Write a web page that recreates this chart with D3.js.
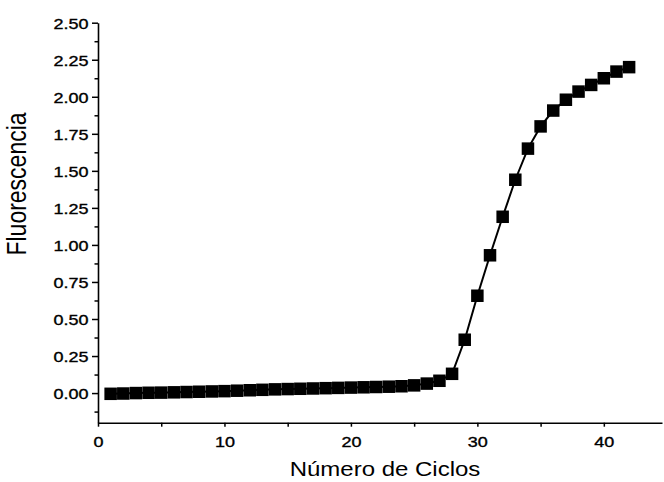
<!DOCTYPE html>
<html><head><meta charset="utf-8">
<script src="https://cdn.jsdelivr.net/npm/d3@7"></script>
<style>
html,body{margin:0;padding:0;background:#fff;}
svg{display:block;font-family:"Liberation Sans",Arial,sans-serif;}
</style></head>
<body>
<svg id="chart" width="664" height="482"></svg>
<script>
const cycles = [1,2,3,4,5,6,7,8,9,10,11,12,13,14,15,16,17,18,19,20,21,22,23,24,25,26,27,28,29,30,31,32,33,34,35,36,37,38,39,40,41,42];
const fluorescence = [-0.005,-0.003,0.0,0.002,0.003,0.005,0.007,0.009,0.011,0.013,0.016,0.019,0.022,0.025,0.027,0.029,0.031,0.033,0.035,0.037,0.039,0.041,0.043,0.046,0.052,0.064,0.083,0.13,0.36,0.657,0.93,1.19,1.44,1.65,1.80,1.907,1.98,2.035,2.08,2.125,2.17,2.20];
const xMajorTicks = [0,10,20,30,40];
const xMinorTicks = [5,15,25,35];
const yMajorTicks = [0,0.25,0.5,0.75,1.0,1.25,1.5,1.75,2.0,2.25,2.5];
const yMinorTicks = [-0.125,0.125,0.375,0.625,0.875,1.125,1.375,1.625,1.875,2.125,2.375];
const xTitle = "Número de Ciclos";
const yTitle = "Fluorescencia";

const svg = d3.select("#chart");
const SX = 1.2;
const x = d3.scaleLinear().domain([0,44.6]).range([98,662]);
const y = d3.scaleLinear().domain([-0.2,2.5]).range([422.7,22.7]);

// minor ticks
svg.append("g").attr("transform",`translate(0,${y(-0.2)})`)
  .call(d3.axisBottom(x).tickValues(xMinorTicks).tickSize(4).tickFormat(""))
  .call(g=>g.select(".domain").remove())
  .call(g=>g.selectAll("line").attr("stroke","#000").attr("stroke-width",1.5));
svg.append("g").attr("transform",`translate(${x(0)},0)`)
  .call(d3.axisLeft(y).tickValues(yMinorTicks).tickSize(3.5).tickFormat(""))
  .call(g=>g.select(".domain").remove())
  .call(g=>g.selectAll("line").attr("stroke","#000").attr("stroke-width",1.5));

// major axes
const gx = svg.append("g").attr("transform",`translate(0,${y(-0.2)})`)
  .call(d3.axisBottom(x).tickValues(xMajorTicks).tickSize(4).tickSizeOuter(0).tickFormat(d3.format("d")));
gx.select(".domain").attr("stroke","#000").attr("stroke-width",1.6);
gx.selectAll("line").attr("stroke","#000").attr("stroke-width",1.5);
gx.selectAll("text").attr("y",0).attr("dy",0)
  .attr("transform",`translate(0,24.5) scale(${SX},1)`)
  .attr("font-size",15).attr("fill","#000").attr("stroke","#000").attr("stroke-width",0.35)
  .attr("font-family","Liberation Sans, Arial, sans-serif");

const gy = svg.append("g").attr("transform",`translate(${x(0)},0)`)
  .call(d3.axisLeft(y).tickValues(yMajorTicks).tickSize(6).tickSizeOuter(0).tickFormat(d3.format(".2f")));
gy.select(".domain").attr("stroke","#000").attr("stroke-width",1.6);
gy.selectAll("line").attr("stroke","#000").attr("stroke-width",1.5);
gy.selectAll("text").attr("x",0).attr("dy","0.36em")
  .attr("transform",`translate(-9.5,0) scale(${SX},1)`)
  .attr("font-size",15).attr("fill","#000").attr("stroke","#000").attr("stroke-width",0.35)
  .attr("font-family","Liberation Sans, Arial, sans-serif");

// line
svg.append("path")
  .datum(cycles.map((c,i)=>[c,fluorescence[i]]))
  .attr("fill","none").attr("stroke","#000").attr("stroke-width",2)
  .attr("d", d3.line().x(d=>x(d[0])).y(d=>y(d[1])));

// squares
const S = 12.5;
svg.append("g").selectAll("rect")
  .data(cycles.map((c,i)=>[c,fluorescence[i]]))
  .join("rect")
  .attr("x",d=>x(d[0])-S/2).attr("y",d=>y(d[1])-S/2)
  .attr("width",S).attr("height",S).attr("fill","#000");

// titles
svg.append("text")
  .attr("transform",`translate(385,476) scale(${SX},1)`)
  .attr("text-anchor","middle").attr("font-size",20).attr("fill","#000")
  .text(xTitle);
svg.append("text")
  .attr("transform",`translate(26,184) scale(${SX},1) rotate(-90)`)
  .attr("text-anchor","middle").attr("font-size",23).attr("fill","#000")
  .text(yTitle);
</script>
</body></html>
